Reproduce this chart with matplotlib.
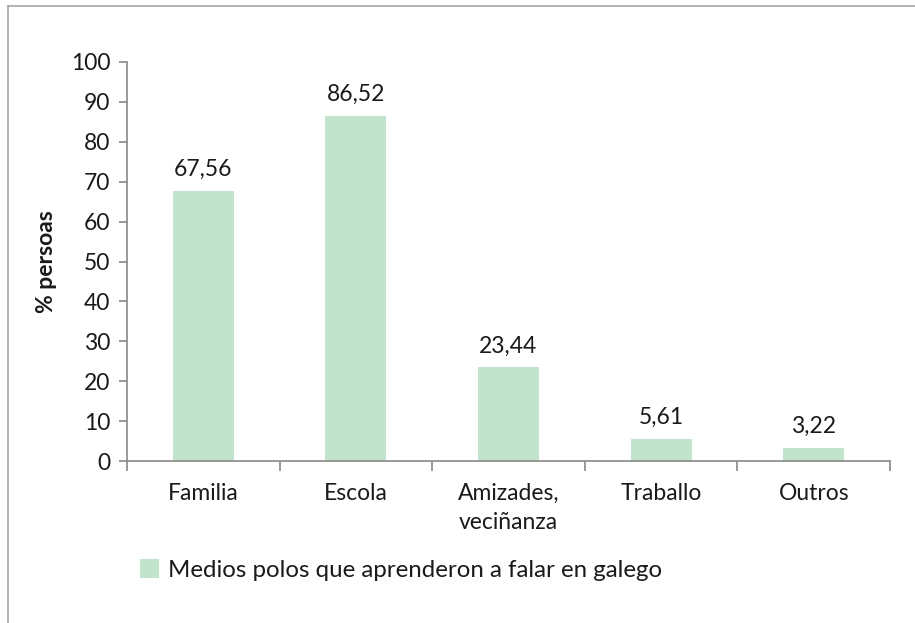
import matplotlib
matplotlib.use("Agg")
import matplotlib.pyplot as plt
from matplotlib.lines import Line2D
from matplotlib.patches import Patch

categories = ["Familia", "Escola", "Amizades,\nveciñanza", "Traballo", "Outros"]
values = [67.56, 86.52, 23.44, 5.61, 3.22]
value_labels = ["67,56", "86,52", "23,44", "5,61", "3,22"]
yticks = [0, 10, 20, 30, 40, 50, 60, 70, 80, 90, 100]
series_name = "Medios polos que aprenderon a falar en galego"

plt.rcParams['font.family'] = ['Lato', 'DejaVu Sans']
bar_color = "#c3e4cc"
axis_color = "#878787"
text_color = "#1a1a1a"
fs = 16.5

fig = plt.figure(figsize=(9.15, 6.23), dpi=100)
ax = fig.add_axes([127/915, 1-461/623, (890-127)/915, (461-62)/623])

x = list(range(len(categories)))
ax.bar(x, values, width=0.4, color=bar_color, zorder=2)
for xi, v, lab in zip(x, values, value_labels):
    ax.annotate(lab, (xi, v), xytext=(0, 8), textcoords="offset points",
                ha="center", va="bottom", fontsize=fs, color=text_color)

ax.set_xlim(-0.5, len(categories) - 0.5)
ax.set_ylim(0, 100)
ax.set_yticks(yticks)
ax.set_yticklabels([str(t) for t in yticks], fontsize=fs, color=text_color)
ax.set_xticks(x)
ax.set_xticklabels(categories, fontsize=fs, color=text_color, linespacing=1.45, va="top")
ax.tick_params(axis="x", length=0, pad=16)
ax.set_xticks([i - 0.5 for i in range(len(categories) + 1)], minor=True)
ax.tick_params(axis="x", which="minor", length=7, color=axis_color, width=1.2, direction="out")
ax.tick_params(axis="y", length=6, color=axis_color, width=1.2, direction="out", pad=6)

for s in ["top", "right"]:
    ax.spines[s].set_visible(False)
for s in ["left", "bottom"]:
    ax.spines[s].set_color(axis_color)
    ax.spines[s].set_linewidth(1.2)

ax.set_ylabel("% persoas", fontsize=fs, fontweight="bold", color=text_color)
ax.yaxis.set_label_coords((57 - 127) / 763, 0.5)

handle = Patch(facecolor=bar_color, edgecolor="none")
fig.legend([handle], [series_name], loc="center left",
           bbox_to_anchor=(118/915, 1-570/623), frameon=False, fontsize=fs + 0.8,
           handlelength=0.8, handleheight=0.8, handletextpad=0.4,
           labelcolor=text_color)

# outer frame (left and top edges visible)
fig.add_artist(Line2D([8/915, 8/915], [0, 1-6/623], transform=fig.transFigure,
                      color="#a6a6a6", linewidth=1.2))
fig.add_artist(Line2D([8/915, 1], [1-6/623, 1-6/623], transform=fig.transFigure,
                      color="#a6a6a6", linewidth=1.2))

fig.savefig("out.png", dpi=100)
